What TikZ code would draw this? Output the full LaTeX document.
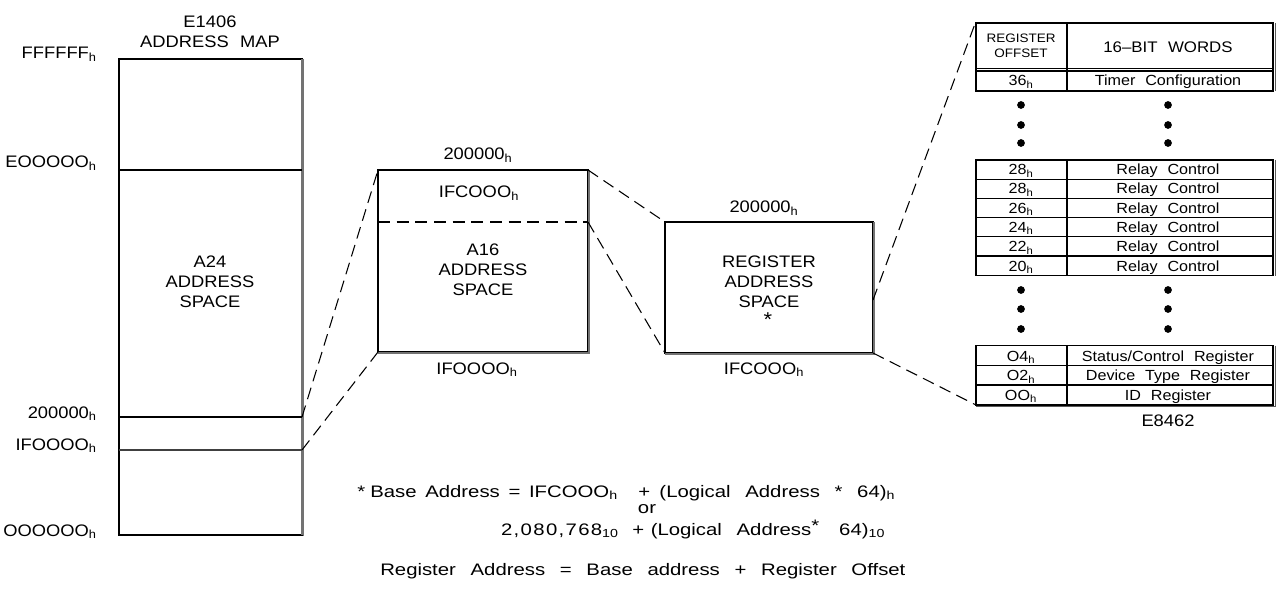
\documentclass[tikz,border=0pt]{standalone}
\usepackage{fontspec}
\setmainfont{Liberation Sans}[FakeStretch=1.1, WordSpace=2.2]
\newfontfamily\cadform{Liberation Sans}[FakeStretch=1.22, WordSpace=2.6]
\newcommand\hx[1]{#1\textsubscript{h}}
\begin{document}
\begin{tikzpicture}[x=0.75pt,y=-0.75pt,
  big/.style={font=\fontsize{12.5}{15}\selectfont, inner sep=0pt, align=center},
  form/.style={font=\cadform\fontsize{12.5}{15}\selectfont, inner sep=0pt},
  tb/.style={font=\fontsize{11}{13}\selectfont, inner sep=0pt},
  hd/.style={font=\fontsize{9.2}{11.5}\selectfont, inner sep=0pt, align=center},
  thin/.style={line width=0.8pt},
  shade/.style={draw=black!55, line width=2pt},
  link/.style={line width=0.8pt, dash pattern=on 9pt off 5pt},
  tdot/.style={circle, fill=black, inner sep=0pt, minimum size=5.8pt}]
\useasboundingbox (0,0) rectangle (1278,599);

% ---------- left address map ----------
\draw[thin] (119,59) rectangle (302,535);
\draw[shade] (302.5,59) -- (302.5,536);
\draw[thin] (119,535.5) -- (303,535.5);
\draw[thin] (119,170) -- (302,170);
\draw[thin] (119,417) -- (302,417);
\draw[thin, draw=black!75, line width=1.1pt] (119,450) -- (302,450);
\coordinate (m200) at (302,417);
\coordinate (m1f0) at (302,450);

\node[big] (title) at (210,32) {E1406\\ADDRESS MAP};
\node[big] (a24) at (210,282) {A24\\ADDRESS\\SPACE};
\node[big, anchor=base east] (lF) at (97,59) {FFFFFF\textsubscript{h}};
\node[big, anchor=base east] (lE) at (97,168) {\hx{EOOOOO}};
\node[big, anchor=base east] (l2) at (97,418) {\hx{200000}};
\node[big, anchor=base east] (l1) at (97,450) {\hx{IFOOOO}};
\node[big, anchor=base east] (l0) at (97,536) {\hx{OOOOOO}};

% ---------- A16 box ----------
\draw[thin] (378,170) rectangle (588,352);
\draw[shade] (589,170) -- (589,353);
\draw[shade] (378,353) -- (590,353);
\draw[link] (378,222) -- (588,222);
\coordinate (atl) at (378,170);
\coordinate (abl) at (378,352);
\coordinate (atr) at (588,170);
\coordinate (amr) at (588,222);
\node[big, anchor=base] (a16top) at (478,160) {\hx{200000}};
\node[big, anchor=base] (a16fc) at (479,198) {\hx{IFCOOO}};
\node[big] (a16) at (483,270) {A16\\ADDRESS\\SPACE};
\node[big, anchor=base] (a16bot) at (477,374) {\hx{IFOOOO}};

% ---------- register box ----------
\draw[thin] (665,222) rectangle (873,353);
\draw[shade] (874,222) -- (874,354);
\draw[shade] (665,354) -- (875,354);
\coordinate (rtl) at (665,222);
\coordinate (rbl) at (665,353);
\coordinate (rmr) at (873,300);
\coordinate (rbr) at (873,353);
\node[big, anchor=base] (rtop) at (764,213) {\hx{200000}};
\node[big] (reg) at (769,282) {REGISTER\\ADDRESS\\SPACE};
\node[big, font=\fontsize{15}{15}\selectfont] (rstar) at (768,320) {*};
\node[big, anchor=base] (rbot) at (764,374) {\hx{IFCOOO}};

% ---------- table ----------
% block 1
\draw[thin] (976,23) rectangle (1273,91);
\draw[thin] (1067,23) -- (1067,91);
\draw[thin] (976,68.5) -- (1273,68.5);
\draw[thin] (976,71) -- (1273,71);
\draw[line width=1.2pt, draw=black!65] (1275.5,23) -- (1275.5,91);
\coordinate (ttl) at (976,21);
\node[hd] (hoff) at (1021,46) {REGISTER\\OFFSET};
\node[tb, font=\fontsize{11.5}{13}\selectfont] (hwords) at (1168,47.5) {16--BIT WORDS};
\node[tb, anchor=base] (o36) at (1021,86) {\hx{36}};
\node[tb, anchor=base] (tcfg) at (1168,86) {Timer Configuration};

% dots
\foreach \y [count=\i] in {105,125,143,290,309,329} {
  \node[tdot] (dl\i) at (1021,\y) {};
  \node[tdot] (dr\i) at (1168,\y) {};
}

% block 2
\draw[thin] (976,160) rectangle (1273,275.7);
\draw[thin] (1067,160) -- (1067,275.7);
\foreach \y in {179.3,198.3,217.7,236.7,256} \draw[thin] (976,\y) -- (1273,\y);
\draw[line width=1.2pt, draw=black!65] (1275.5,160) -- (1275.5,275.7);
\foreach \v/\y [count=\i] in {28/169.7, 28/188.8, 26/208, 24/227.2, 22/246.4, 20/265.9} {
  \node[tb, anchor=base] (ro\i) at (1021,\y+5.2) {\hx{\v}};
  \node[tb, anchor=base] (rc\i) at (1168,\y+5.2) {Relay Control};
}

% block 3
\draw[thin] (976,345.7) rectangle (1273,405);
\draw[thin] (1067,345.7) -- (1067,405);
\foreach \y in {365.7,385} \draw[thin] (976,\y) -- (1273,\y);
\draw[line width=1.2pt, draw=black!65] (1275.5,345.7) -- (1275.5,406.5);
\draw[line width=1.2pt, draw=black!65] (976,406.5) -- (1276,406.5);
\coordinate (tbl) at (976,405);
\node[tb, anchor=base] (o04) at (1021,361) {\hx{O4}};
\node[tb, anchor=base] (sc) at (1168,361) {Status/Control Register};
\node[tb, anchor=base] (o02) at (1021,380.6) {\hx{O2}};
\node[tb, anchor=base] (dt) at (1168,380.6) {Device Type Register};
\node[tb, anchor=base] (o00) at (1021,400.2) {\hx{OO}};
\node[tb, anchor=base] (idr) at (1168,400.2) {ID Register};
\node[big] (e8462) at (1168,421) {E8462};

% ---------- dashed connectors ----------
\draw[link] (m200) -- (atl);
\draw[link] (m1f0) -- (abl);
\draw[link] (atr) -- (rtl);
\draw[link] (amr) -- (rbl);
\draw[link] (rmr) -- (ttl);
\draw[link] (rbr) -- (tbl);

% ---------- formulas ----------
\node[form, anchor=base west] (f1s) at (357,497) {*};
\node[form, anchor=base west] (f1a) at (370,497) {Base\hspace{6.5pt}Address\hspace{6.5pt}=\hspace{6.5pt}\hx{IFCOOO}};
\node[form, anchor=base west] (f1b) at (638,497) {+\hspace{7pt}(Logical Address * 64)\textsubscript{h}};
\node[form, anchor=base] (f2) at (647,513) {or};
\node[form, anchor=base east] (f3a) at (619,535) {{\addfontfeature{LetterSpace=8}2,080,768}\textsubscript{10}};
\node[form, anchor=base west] (f3b) at (632,535) {+\hspace{5pt}(Logical Address\raisebox{2.5pt}{*}\hspace{1.2em}64)\textsubscript{10}};
\node[form, anchor=base west] (f4) at (380,575) {Register Address = Base address + Register Offset};
\end{tikzpicture}
\end{document}
